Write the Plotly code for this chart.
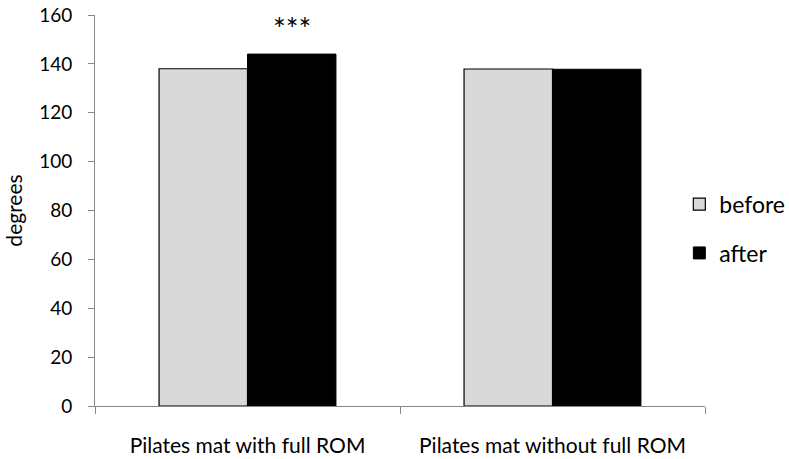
import plotly.graph_objects as go

categories = ["Pilates mat with full ROM", "Pilates mat without full ROM"]
before_vals = [138.0, 137.9]
after_vals = [144.0, 137.8]
y_ticks = [0, 20, 40, 60, 80, 100, 120, 140, 160]

FONT = "Lato"
AXIS_GRAY = "#868686"

fig = go.Figure()
fig.add_trace(go.Bar(
    x=categories, y=before_vals, name="before", legendgroup="before",
    marker=dict(color="#d9d9d9", line=dict(color="#000000", width=1.2)),
))
fig.add_trace(go.Bar(
    x=categories, y=after_vals, name="after", legendgroup="after",
    marker=dict(color="#000000", line=dict(color="#000000", width=1)),
))

# significance marker over the "after" bar of the first group
fig.add_annotation(
    x=categories[0], y=after_vals[0], xshift=44, yshift=6,
    text="***", showarrow=False, yanchor="bottom",
    font=dict(family=FONT, size=30, color="#000000"),
)

fig.update_layout(
    width=789, height=459,
    margin=dict(l=95, r=84, t=15, b=53, autoexpand=False),
    paper_bgcolor="white", plot_bgcolor="white",
    barmode="group", bargap=0.42, bargroupgap=0,
    font=dict(family=FONT, size=18, color="#000000"),
    showlegend=True,
    legend=dict(
        xref="container", yref="container",
        x=0.861, xanchor="left", y=0.502, yanchor="middle",
        traceorder="grouped", tracegroupgap=16,
        font=dict(family=FONT, size=23, color="#000000"),
        itemwidth=30,
    ),
    xaxis=dict(
        type="category", tickson="boundaries", automargin=False,
        showline=True, linecolor=AXIS_GRAY, linewidth=1,
        ticks="outside", ticklen=7, tickcolor=AXIS_GRAY,
        showgrid=False, ticklabelstandoff=21,
        tickfont=dict(family=FONT, size=21),
    ),
    yaxis=dict(
        range=[0, 160], tickvals=y_ticks, automargin=False,
        showline=True, linecolor=AXIS_GRAY, linewidth=1,
        ticks="outside", ticklen=6, tickcolor=AXIS_GRAY,
        showgrid=False, zeroline=False, ticklabelstandoff=12,
        tickfont=dict(family=FONT, size=19),
        title=dict(text="degrees", font=dict(family=FONT, size=21), standoff=10),
    ),
)

fig.write_html("out.html")
